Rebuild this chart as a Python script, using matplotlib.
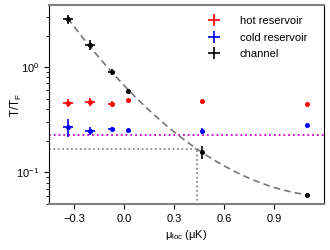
import numpy as np
import matplotlib
matplotlib.use('Agg')
import matplotlib.pyplot as plt
from matplotlib.lines import Line2D

plt.rcParams['font.family'] = ['Liberation Sans', 'DejaVu Sans']
plt.rcParams['mathtext.fontset'] = 'custom'
plt.rcParams['mathtext.rm'] = 'Liberation Sans'
plt.rcParams['mathtext.it'] = 'Liberation Sans:italic'
plt.rcParams['mathtext.default'] = 'regular'
plt.rcParams['font.size'] = 8

# положения точек по оси mu_loc (мкК)
mu = [-0.338, -0.204, -0.074, 0.026, 0.468, 1.10]
mu_err = [0.03, 0.03, 0.02, 0.0, 0.008, 0.0]

# T/T_F для трех наборов
hot = [0.457, 0.467, 0.45, 0.49, 0.475, 0.45]
hot_err = [0.04, 0.04, 0.03, 0.0, 0.0, 0.0]
cold = [0.268, 0.247, 0.257, 0.25, 0.247, 0.28]
cold_err = [0.05, 0.022, 0.01, 0.0, 0.015, 0.0]
chan = [2.86, 1.64, 0.90, 0.59, 0.156, 0.061]
chan_err = [0.26, 0.17, 0.06, 0.02, 0.022, 0.0]

# горизонтальные уровни
level_magenta = 0.225
level_gray = 0.168
mu_cross = 0.436

fig = plt.figure(figsize=(3.3, 2.5), dpi=100)
ax = fig.add_axes([49/330, 46/250, 275/330, 199/250])

# сглаженная кривая через точки канала (подгонка в лог-масштабе)
coef = np.polyfit(mu, np.log10(chan), 2)
xs = np.linspace(mu[0], mu[-1], 200)
ax.plot(xs, 10**np.polyval(coef, xs), '--', color='#777777', lw=1.2, dashes=(4, 2.5), zorder=1)

ax.axhline(level_magenta, color='#c000c0', ls=':', lw=1.3, zorder=0)
ax.plot([-0.45, mu_cross], [level_gray, level_gray], ':', color='#777777', lw=1.2, zorder=0)
ax.plot([mu_cross, mu_cross], [0.03, level_gray], ':', color='#777777', lw=1.2, zorder=0)

kw = dict(fmt='o', ms=2.6, capsize=0, elinewidth=1.2)
ax.errorbar(mu, hot, yerr=hot_err, xerr=mu_err, color='red', label='hot reservoir', **kw)
ax.errorbar(mu, cold, yerr=cold_err, xerr=mu_err, color='blue', label='cold reservoir', **kw)
ax.errorbar(mu, chan, yerr=chan_err, xerr=mu_err, color='black', label='channel', **kw)

ax.set_yscale('log')
ax.set_xlim(-0.45, 1.2)
ax.set_ylim(0.05, 3.9)
ax.set_xticks([-0.3, 0.0, 0.3, 0.6, 0.9])
ax.set_xlabel(r'$\mu_{\rm loc}$ (μK)', labelpad=3)
ax.set_ylabel(r'$T/T_F$', fontsize=8.5)
ax.yaxis.set_label_coords(-25/275, 0.5)

ax.spines['top'].set_color('#808080')
ax.spines['bottom'].set_color('#808080')
ax.spines['top'].set_linewidth(1.5)
ax.spines['bottom'].set_linewidth(1.5)
ax.tick_params(which='both', direction='out', top=False, right=False)
ax.tick_params(which='major', length=3.5)
ax.tick_params(which='minor', length=2)

# легенда с крестиками без точек
handles = []
for c, lab in [('red', 'hot reservoir'), ('blue', 'cold reservoir'), ('black', 'channel')]:
    handles.append(Line2D([], [], color=c, marker='+', ms=9, mew=1.2, ls='none', label=lab))
ax.legend(handles=handles, loc='upper right', frameon=False, handletextpad=1.3,
          borderaxespad=0, borderpad=0, labelspacing=0.6,
          bbox_to_anchor=(258/275, 1 - 11/199))

fig.savefig('out.png', dpi=100)
